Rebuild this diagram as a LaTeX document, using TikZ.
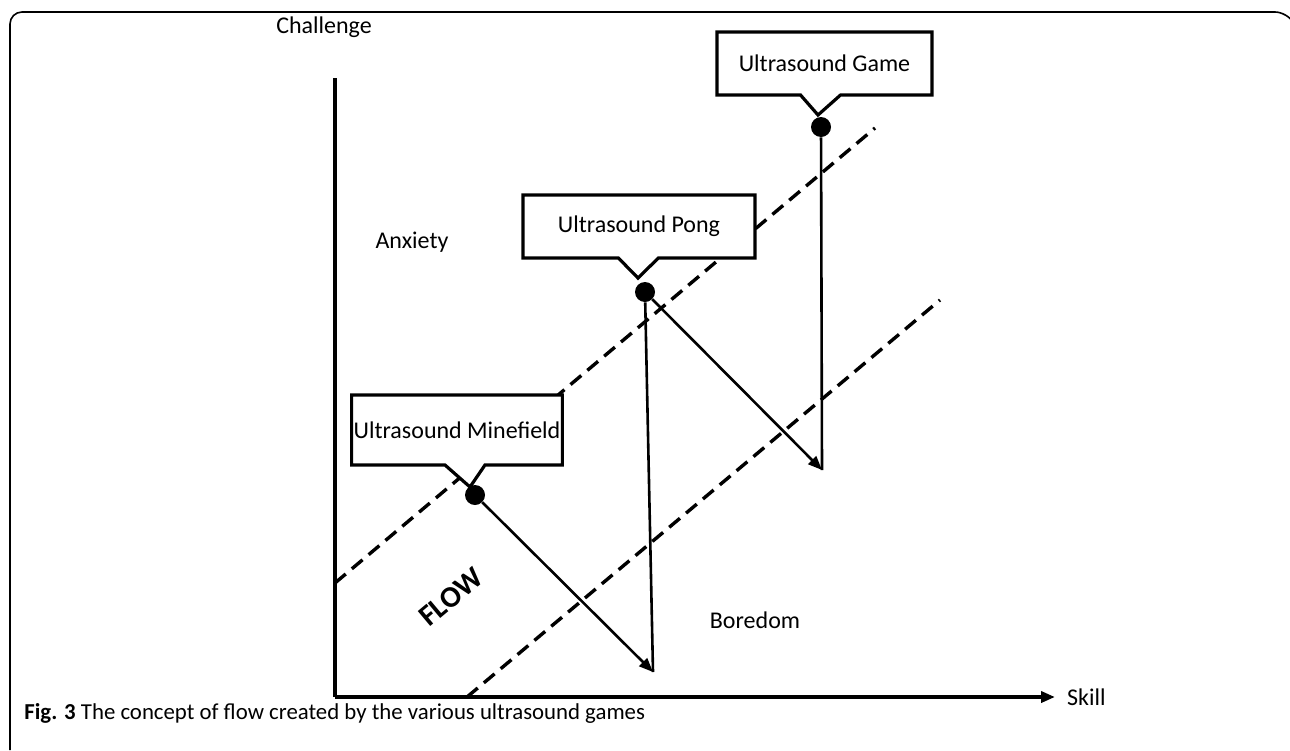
\documentclass[tikz,border=0pt]{standalone}
\usepackage{fontspec}
\setmainfont{Carlito}
\usetikzlibrary{arrows.meta}
\usetikzlibrary{positioning}
\usetikzlibrary{shapes.callouts}

\tikzset{
  gamebox/.style={rectangle callout, draw, line width=1.6pt, fill=white, inner sep=1pt,
    minimum height=31.5pt, callout pointer width=20pt},
  gamedot/.style={circle, fill, inner sep=0pt, minimum size=10pt},
  axis/.style={line width=2pt},
  limit/.style={line width=1.7pt, dash pattern=on 7pt off 4pt},
  jump/.style={line width=1.3pt},
  tip/.style={-{Triangle[length=7pt, width=5.5pt]}},
}

\begin{document}
\begin{tikzpicture}[font=\fontsize{12}{14}\selectfont, x=0.5pt, y=-0.5pt]
            \useasboundingbox (0,0) rectangle (1290,750);
            % frame of the figure
            \draw[line width=0.8pt, rounded corners=6pt] (10,750) -- (10,12) -- (1287,12) -- (1290,17);
            % axes
            \coordinate (top) at (335,78);
            \coordinate (o) at (335,697);
            \coordinate (right) at (1055,697);
            \draw[axis] (top) -- (o);
            \draw[axis, tip] (o) -- (right);
            \node (challenge) at (324,27) {Challenge};
            \node[anchor=west] (skill) at (1060,697) {Skill};
            % borders of the flow channel
            \draw[limit] (335,583) -- (875,128);
            \draw[limit] (467,697) -- (940,300);
            \node (anxiety) at (412,242) {Anxiety};
            \node (boredom) at (755,620) {Boredom};
            \node[rotate=40, font=\fontsize{15}{17}\selectfont\bfseries] (flow) at (451,597) {FLOW};
            % games
            \node[gamedot] (mdot) at (475,495) {};
            \node[gamedot] (pdot) at (645,292) {};
            \node[gamedot] (gdot) at (821,127) {};
            \coordinate (mend) at (653,672);
            \coordinate (pend) at (822,470);
            \draw[jump, tip] (mdot) -- (mend);
            \draw[jump] (mend) -- (pdot);
            \draw[jump, tip] (pdot) -- (pend);
            \draw[jump] (pend) -- (gdot);
            \node[gamebox, minimum width=100pt, minimum height=35pt, callout absolute pointer={(470,487)}] (minefield) at (457,430) {Ultrasound Minefield};
            \node[gamebox, minimum width=116pt, callout absolute pointer={(638,278)}] (pong) at (639,226.5) {Ultrasound Pong};
            \node[gamebox, minimum width=107.5pt, callout absolute pointer={(818,115)}] (game) at (824.5,63.5) {Ultrasound Game};
            % caption
            \node[anchor=west, inner sep=0pt, font=\fontsize{11.4}{14}\selectfont] (caption) at (24,713) {\textbf{Fig. 3} The concept of flow created by the various ultrasound games};
        \end{tikzpicture}
\end{document}
